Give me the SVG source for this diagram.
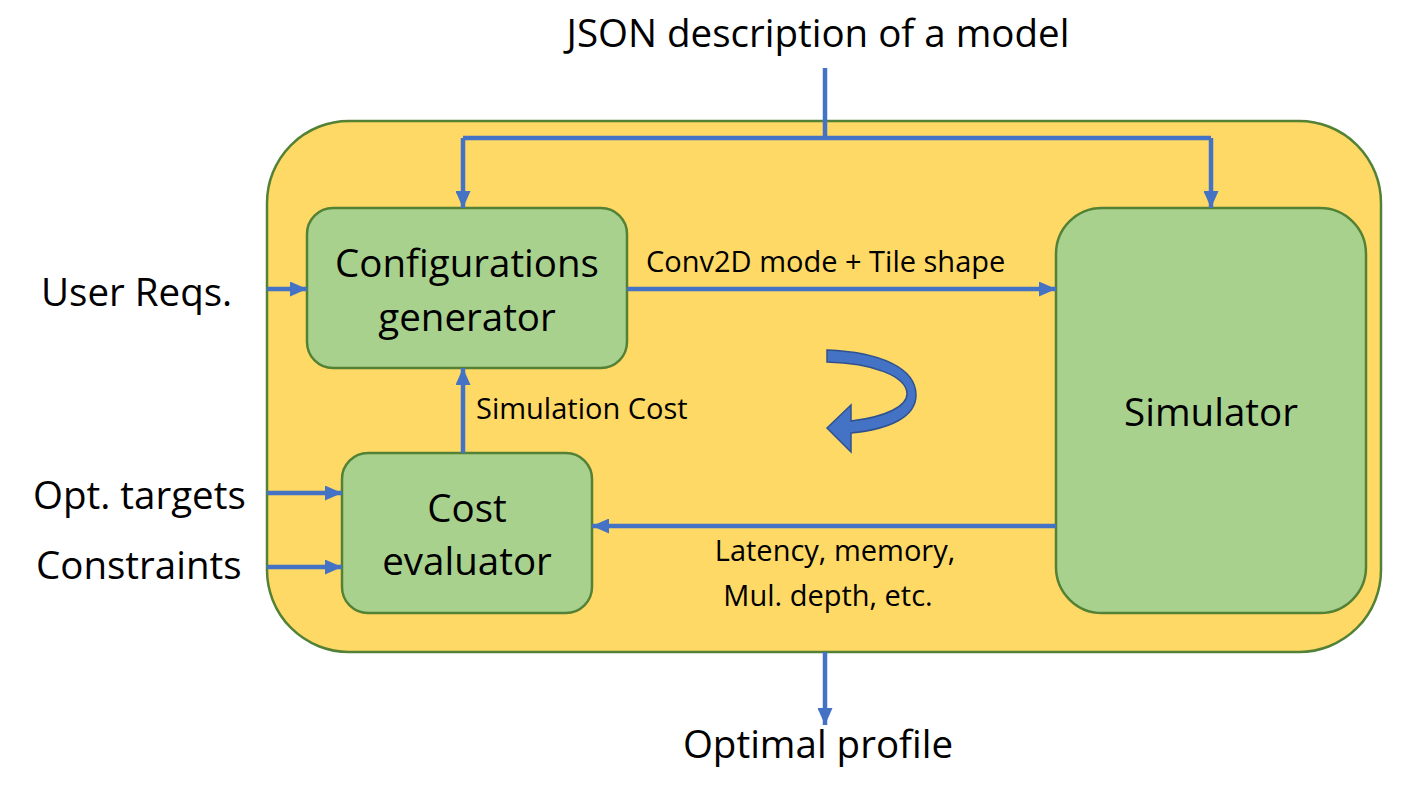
<svg xmlns="http://www.w3.org/2000/svg" width="1423" height="787" viewBox="0 0 1423 787">
<style>
.box{fill:#A9D18E;stroke:#538135;stroke-width:2.5}
.outer{fill:#FFD966;stroke:#538135;stroke-width:2.5}
.c{fill:none;stroke:#4472C4;stroke-width:4.5}
.big{font-family:"Open Sans","Liberation Sans",sans-serif;font-size:38.5px;fill:#000}
.sm{font-family:"Open Sans","Liberation Sans",sans-serif;font-size:29px;fill:#000}
</style>
<defs>
<marker id="ah" markerUnits="userSpaceOnUse" markerWidth="17" markerHeight="15" refX="17" refY="7.5" orient="auto">
<path d="M0,0 L17,7.5 L0,15 Z" fill="#4472C4"/>
</marker>
</defs>
<rect width="1423" height="787" fill="#fff"/>
<g id="system">
<rect class="outer" x="267" y="121" width="1114" height="531" rx="82" ry="82"/>
</g>
<g id="config-generator">
<rect class="box" x="307" y="208" width="320" height="160" rx="26" ry="26"/>
<text class="big" x="467" y="277" text-anchor="middle">Configurations</text>
<text class="big" x="467" y="331" text-anchor="middle">generator</text>
</g>
<g id="cost-evaluator">
<rect class="box" x="342" y="453" width="250" height="160" rx="26" ry="26"/>
<text class="big" x="467" y="522" text-anchor="middle">Cost</text>
<text class="big" x="467" y="575" text-anchor="middle">evaluator</text>
</g>
<g id="simulator">
<rect class="box" x="1056" y="208" width="310" height="405" rx="46" ry="46"/>
<text class="big" x="1211" y="426" text-anchor="middle">Simulator</text>
</g>
<g id="loop-arrow">
<path d="M827,350 C880,352 916,368 916,395 C916,417 890,429 851,433 L851,452 L827,428 L851,405 L851,421 C886,417 907,406 907,394 C907,376 872,363 827,362 Z" fill="#4472C4" stroke="#2F528F" stroke-width="1.5"/>
</g>
<g id="connectors">
<path class="c" d="M825,68 V138"/>
<path class="c" d="M463,138 H1211"/>
<path class="c" d="M463,138 V208" marker-end="url(#ah)"/>
<path class="c" d="M1211,138 V208" marker-end="url(#ah)"/>
<path class="c" d="M267,289 H307" marker-end="url(#ah)"/>
<path class="c" d="M627,289 H1056" marker-end="url(#ah)"/>
<path class="c" d="M463,453 V368" marker-end="url(#ah)"/>
<path class="c" d="M267,493 H342" marker-end="url(#ah)"/>
<path class="c" d="M267,567 H342" marker-end="url(#ah)"/>
<path class="c" d="M1056,526 H592" marker-end="url(#ah)"/>
<path class="c" d="M825,652 V725" marker-end="url(#ah)"/>
</g>
<g id="labels">
<text class="big" x="818" y="47" text-anchor="middle">JSON description of a model</text>
<text class="big" x="41" y="306">User Reqs.</text>
<text class="big" x="33" y="509">Opt. targets</text>
<text class="big" x="36" y="579">Constraints</text>
<text class="big" x="818" y="758" text-anchor="middle">Optimal profile</text>
<text class="sm" x="646" y="272">Conv2D mode + Tile shape</text>
<text class="sm" x="476" y="419">Simulation Cost</text>
<text class="sm" x="835" y="561" text-anchor="middle">Latency, memory,</text>
<text class="sm" x="828" y="606" text-anchor="middle">Mul. depth, etc.</text>
</g>
</svg>
